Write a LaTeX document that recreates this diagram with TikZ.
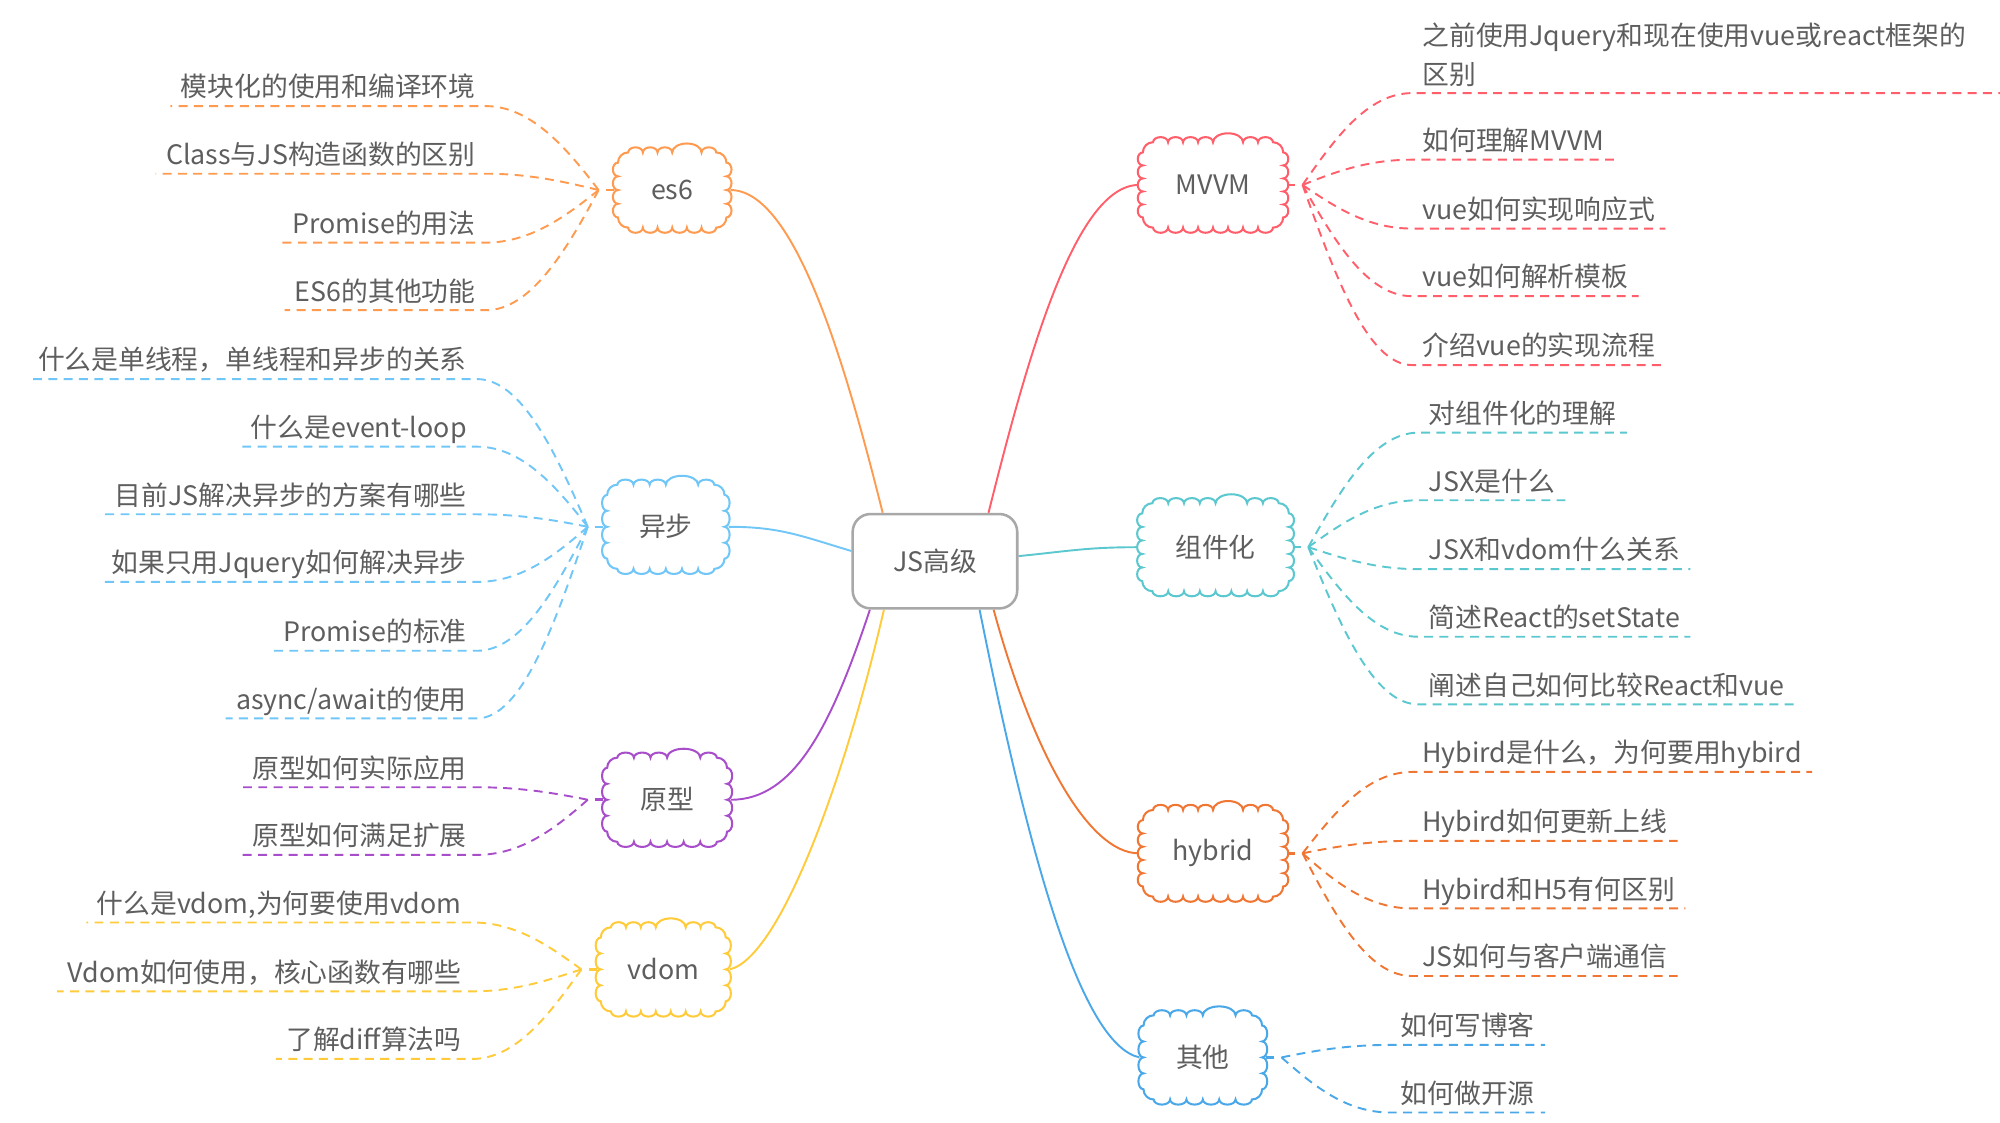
\documentclass[tikz,border=0pt]{standalone}
\usepackage{fontspec}
\setmainfont{Noto Sans CJK SC}
\definecolor{cEs}{HTML}{FF9B50}
\definecolor{cMv}{HTML}{FF5E6A}
\definecolor{cYb}{HTML}{70C6F7}
\definecolor{cZj}{HTML}{5BC7CF}
\definecolor{cYx}{HTML}{A94ECB}
\definecolor{cVd}{HTML}{FFCB3A}
\definecolor{cHy}{HTML}{F07634}
\definecolor{cQt}{HTML}{4AA8E8}
\definecolor{txt}{HTML}{5E5E5E}
\definecolor{boxline}{HTML}{A8A8A8}
\pgfdeclarelayer{bg}
\pgfdeclarelayer{mid}
\pgfsetlayers{bg,mid,main}
\tikzset{
  pics/cloudp/.style n args={4}{code={%
    \pgfmathsetmacro\cwx{(2*#1-16)/#3/2}%
    \pgfmathsetmacro\cwy{(2*#2-16)/#4/2}%
    \pgfmathsetmacro\cwb{2*\cwx}%
    \pgfmathtruncatemacro\nl{#3/2}%
    \pgfmathtruncatemacro\nr{#3-2-\nl}%
    \path[pic actions] (-#1+8,-#2)
      foreach \i in {1,...,\nl}{ arc[start angle=180,end angle=360,x radius=\cwx,y radius=4] }
      arc[start angle=180,end angle=360,x radius=\cwx*2,y radius=7]
      foreach \i in {1,...,\nr}{ arc[start angle=180,end angle=360,x radius=\cwx,y radius=4] }
      arc[start angle=270,end angle=360,radius=8]
      foreach \i in {1,...,#4}{ arc[start angle=270,end angle=450,x radius=4,y radius=\cwy] }
      arc[start angle=0,end angle=90,radius=8]
      foreach \i in {1,...,#3}{ arc[start angle=0,end angle=180,x radius=\cwx,y radius=4] }
      arc[start angle=90,end angle=180,radius=8]
      foreach \i in {1,...,#4}{ arc[start angle=90,end angle=270,x radius=4,y radius=\cwy] }
      arc[start angle=180,end angle=270,radius=8] -- cycle;
  }}
}
\begin{document}
\begin{tikzpicture}[x=1pt,y=-1pt,
  every node/.style={text=txt, font=\fontsize{21}{26}\selectfont},
  cloudtext/.style 2 args={minimum width=#1, minimum height=#2, inner sep=0pt},
  cloudline/.style={line width=1.6pt, fill=white},
  leafL/.style={anchor=east, inner xsep=8pt, inner ysep=4.5pt, text height=18.5pt, text depth=2.5pt},
  leafR/.style={anchor=west, inner xsep=8pt, inner ysep=4.5pt, text height=18.5pt, text depth=2.5pt},
  mainline/.style={line width=1.5pt},
  dl/.style={line width=1.5pt, dash pattern=on 7pt off 5pt},
  stub/.style={line width=2pt},
]
\useasboundingbox (0,0) rectangle (1568,880);

% center
\node[draw=boxline, line width=2pt, rounded corners=14pt, minimum width=129pt, minimum height=74pt, fill=white, inner sep=0pt] (c) at (733,440) {JS高级};

% clouds (text nodes)
\node[cloudtext={91pt}{65pt}] (ES) at (527,149) {es6};
\node[cloudtext={116pt}{73pt}] (MV) at (951,145) {MVVM};
\node[cloudtext={98pt}{72pt}] (YB) at (522,413) {异步};
\node[cloudtext={121pt}{75pt}] (ZJ) at (953,429) {组件化};
\node[cloudtext={100pt}{72pt}] (YX) at (523,627) {原型};
\node[cloudtext={104pt}{72pt}] (VD) at (520,760) {vdom};
\node[cloudtext={116pt}{74pt}] (HY) at (951,669) {hybrid};
\node[cloudtext={99pt}{72pt}] (QT) at (943,829) {其他};

\begin{pgfonlayer}{mid}
\pic[cloudline, draw=cEs] at (ES) {cloudp={42.5}{29.5}{6}{4}};
\pic[cloudline, draw=cMv] at (MV) {cloudp={55}{33.5}{8}{5}};
\pic[cloudline, draw=cYb] at (YB) {cloudp={46}{33}{6}{4}};
\pic[cloudline, draw=cZj] at (ZJ) {cloudp={57.5}{34.5}{8}{5}};
\pic[cloudline, draw=cYx] at (YX) {cloudp={47}{33}{6}{4}};
\pic[cloudline, draw=cVd] at (VD) {cloudp={49}{33}{7}{4}};
\pic[cloudline, draw=cHy] at (HY) {cloudp={55}{34}{8}{5}};
\pic[cloudline, draw=cQt] at (QT) {cloudp={46.5}{33}{6}{4}};
\end{pgfonlayer}

% fan points (where the dashed branches meet)
\coordinate (ESf) at ([xshift=-12pt]ES.west);
\coordinate (YBf) at ([xshift=-12pt]YB.west);
\coordinate (YXf) at ([xshift=-12pt]YX.west);
\coordinate (VDf) at ([xshift=-12pt]VD.west);
\coordinate (MVf) at ([xshift=12pt]MV.east);
\coordinate (ZJf) at ([xshift=12pt]ZJ.east);
\coordinate (HYf) at ([xshift=12pt]HY.east);
\coordinate (QTf) at ([xshift=12pt]QT.east);

% leaves
\node[leafL] (e1) at (381,68) {模块化的使用和编译环境};
\node[leafL] (e2) at (381,121) {Class与JS构造函数的区别};
\node[leafL] (e3) at (381,175) {Promise的用法};
\node[leafL] (e4) at (381,228) {ES6的其他功能};

\node[leafL] (y1) at (374,282) {什么是单线程，单线程和异步的关系};
\node[leafL] (y2) at (374,335) {什么是event-loop};
\node[leafL] (y3) at (374,388) {目前JS解决异步的方案有哪些};
\node[leafL] (y4) at (374,441) {如果只用Jquery如何解决异步};
\node[leafL] (y5) at (374,495) {Promise的标准};
\node[leafL] (y6) at (374,548) {async/await的使用};

\node[leafL] (p1) at (374,602) {原型如何实际应用};
\node[leafL] (p2) at (374,655) {原型如何满足扩展};

\node[leafL] (v1) at (370,708) {什么是vdom,为何要使用vdom};
\node[leafL] (v2) at (370,762) {Vdom如何使用，核心函数有哪些};
\node[leafL] (v3) at (370,815) {了解diff算法吗};

\node[anchor=south west, inner xsep=8pt, inner ysep=4.5pt, text width=445pt, align=left,
      font=\fontsize{21}{31}\selectfont] (m1) at (1107,73) {之前使用Jquery和现在使用vue或react框架的\\区别};
\node[leafR] (m2) at (1107,110) {如何理解MVVM};
\node[leafR] (m3) at (1107,164) {vue如何实现响应式};
\node[leafR] (m4) at (1107,217) {vue如何解析模板};
\node[leafR] (m5) at (1107,271) {介绍vue的实现流程};

\node[leafR] (z1) at (1112,324) {对组件化的理解};
\node[leafR] (z2) at (1112,377) {JSX是什么};
\node[leafR] (z3) at (1112,431) {JSX和vdom什么关系};
\node[leafR] (z4) at (1112,484) {简述React的setState};
\node[leafR] (z5) at (1112,537) {阐述自己如何比较React和vue};

\node[leafR] (h1) at (1107,590) {Hybird是什么，为何要用hybird};
\node[leafR] (h2) at (1107,644) {Hybird如何更新上线};
\node[leafR] (h3) at (1107,697) {Hybird和H5有何区别};
\node[leafR] (h4) at (1107,750) {JS如何与客户端通信};

\node[leafR] (q1) at (1090,804) {如何写博客};
\node[leafR] (q2) at (1090,857) {如何做开源};

\begin{pgfonlayer}{bg}
% main connectors
\draw[mainline, cEs] ([xshift=-41pt]c.north) .. controls +(-30,-120) and +(50,0) .. (ES.east);
\draw[mainline, cMv] ([xshift=42pt]c.north) .. controls +(30,-120) and +(-50,0) .. (MV.west);
\draw[mainline, cYb] ([yshift=8pt]c.west) .. controls +(-40,-12) and +(40,0) .. (YB.east);
\draw[mainline, cZj] ([yshift=4pt]c.east) .. controls +(40,-4) and +(-40,0) .. (ZJ.west);
\draw[mainline, cYx] ([xshift=-51pt]c.south) .. controls +(-30,90) and +(50,0) .. (YX.east);
\draw[mainline, cVd] ([xshift=-40pt]c.south) .. controls +(-30,130) and +(40,-10) .. (VD.east);
\draw[mainline, cHy] ([xshift=46pt]c.south) .. controls +(30,110) and +(-40,0) .. (HY.west);
\draw[mainline, cQt] ([xshift=35pt]c.south) .. controls +(40,200) and +(-45,-10) .. (QT.west);

% stubs
\draw[stub, cEs] (ES.west) -- ([xshift=-6pt]ES.west);
\draw[stub, cYb] (YB.west) -- ([xshift=-6pt]YB.west);
\draw[stub, cYx] (YX.west) -- ([xshift=-6pt]YX.west);
\draw[stub, cVd] (VD.west) -- ([xshift=-6pt]VD.west);
\draw[stub, cMv] (MV.east) -- ([xshift=6pt]MV.east);
\draw[stub, cZj] (ZJ.east) -- ([xshift=6pt]ZJ.east);
\draw[stub, cHy] (HY.east) -- ([xshift=6pt]HY.east);
\draw[stub, cQt] (QT.east) -- ([xshift=6pt]QT.east);

\begin{scope}[dl, cEs]
\draw (ESf) .. controls +(-25,-33) and +(35,0) .. (e1.south east) -- (e1.south west);
\draw (ESf) .. controls +(-25,-6) and +(35,0) .. (e2.south east) -- (e2.south west);
\draw (ESf) .. controls +(-25,20) and +(35,0) .. (e3.south east) -- (e3.south west);
\draw (ESf) .. controls +(-25,47) and +(35,0) .. (e4.south east) -- (e4.south west);
\end{scope}
\begin{scope}[dl, cYb]
\draw (YBf) .. controls +(-25,-58) and +(35,0) .. (y1.south east) -- (y1.south west);
\draw (YBf) .. controls +(-25,-32) and +(35,0) .. (y2.south east) -- (y2.south west);
\draw (YBf) .. controls +(-25,-5) and +(35,0) .. (y3.south east) -- (y3.south west);
\draw (YBf) .. controls +(-25,22) and +(35,0) .. (y4.south east) -- (y4.south west);
\draw (YBf) .. controls +(-25,48) and +(35,0) .. (y5.south east) -- (y5.south west);
\draw (YBf) .. controls +(-25,75) and +(35,0) .. (y6.south east) -- (y6.south west);
\end{scope}
\begin{scope}[dl, cYx]
\draw (YXf) .. controls +(-25,-5) and +(35,0) .. (p1.south east) -- (p1.south west);
\draw (YXf) .. controls +(-25,22) and +(35,0) .. (p2.south east) -- (p2.south west);
\end{scope}
\begin{scope}[dl, cVd]
\draw (VDf) .. controls +(-25,-18) and +(35,0) .. (v1.south east) -- (v1.south west);
\draw (VDf) .. controls +(-25,8) and +(35,0) .. (v2.south east) -- (v2.south west);
\draw (VDf) .. controls +(-25,35) and +(35,0) .. (v3.south east) -- (v3.south west);
\end{scope}
\begin{scope}[dl, cMv]
\draw (MVf) .. controls +(25,-36) and +(-35,0) .. (m1.south west) -- (m1.south east);
\draw (MVf) .. controls +(25,-10) and +(-35,0) .. (m2.south west) -- (m2.south east);
\draw (MVf) .. controls +(25,17) and +(-35,0) .. (m3.south west) -- (m3.south east);
\draw (MVf) .. controls +(25,44) and +(-35,0) .. (m4.south west) -- (m4.south east);
\draw (MVf) .. controls +(25,70) and +(-35,0) .. (m5.south west) -- (m5.south east);
\end{scope}
\begin{scope}[dl, cZj]
\draw (ZJf) .. controls +(25,-45) and +(-35,0) .. (z1.south west) -- (z1.south east);
\draw (ZJf) .. controls +(25,-18) and +(-35,0) .. (z2.south west) -- (z2.south east);
\draw (ZJf) .. controls +(25,8) and +(-35,0) .. (z3.south west) -- (z3.south east);
\draw (ZJf) .. controls +(25,35) and +(-35,0) .. (z4.south west) -- (z4.south east);
\draw (ZJf) .. controls +(25,62) and +(-35,0) .. (z5.south west) -- (z5.south east);
\end{scope}
\begin{scope}[dl, cHy]
\draw (HYf) .. controls +(25,-32) and +(-35,0) .. (h1.south west) -- (h1.south east);
\draw (HYf) .. controls +(25,-5) and +(-35,0) .. (h2.south west) -- (h2.south east);
\draw (HYf) .. controls +(25,22) and +(-35,0) .. (h3.south west) -- (h3.south east);
\draw (HYf) .. controls +(25,48) and +(-35,0) .. (h4.south west) -- (h4.south east);
\end{scope}
\begin{scope}[dl, cQt]
\draw (QTf) .. controls +(25,-5) and +(-35,0) .. (q1.south west) -- (q1.south east);
\draw (QTf) .. controls +(25,22) and +(-35,0) .. (q2.south west) -- (q2.south east);
\end{scope}
\end{pgfonlayer}
\end{tikzpicture}
\end{document}
